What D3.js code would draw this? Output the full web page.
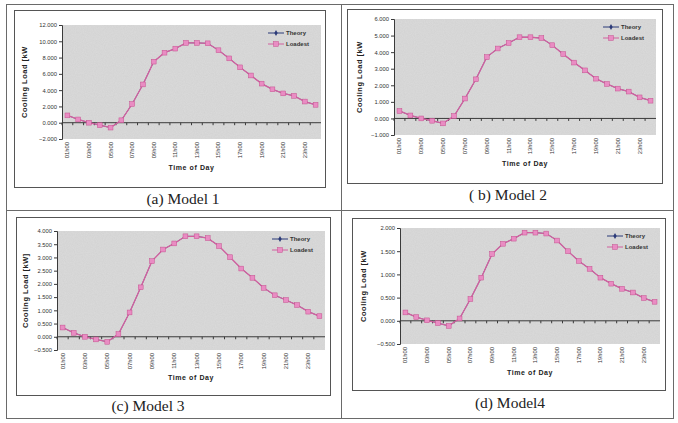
<!DOCTYPE html>
<html>
<head>
<meta charset="utf-8">
<script src="https://cdn.jsdelivr.net/npm/d3@7"></script>
<style>
    body { margin: 0; background: #ffffff; }
    svg { display: block; }
</style>
</head>
<body>
<div id="chart"></div>
<script>
// Data
const hours = ["01h00", "02h00", "03h00", "04h00", "05h00", "06h00", "07h00", "08h00",
    "09h00", "10h00", "11h00", "12h00", "13h00", "14h00", "15h00", "16h00",
    "17h00", "18h00", "19h00", "20h00", "21h00", "22h00", "23h00", "24h00"];

const loadest1 = [0.9, 0.4, 0.0, -0.3, -0.6, 0.3, 2.3, 4.7, 7.5, 8.6, 9.1, 9.8,
    9.8, 9.75, 8.9, 7.9, 6.8, 5.8, 4.8, 4.1, 3.6, 3.3, 2.6, 2.2];
const theory1 = [0.9, 0.4, 0.0, -0.3, -0.6, 0.3, 2.3, 4.7, 7.5, 8.6, 9.1, 9.8,
    9.8, 9.75, 8.9, 7.9, 6.8, 5.8, 4.8, 4.1, 3.6, 3.3, 2.6, 2.2];

const loadest2 = [0.45, 0.18, 0.0, -0.14, -0.3, 0.14, 1.2, 2.36, 3.7, 4.22, 4.55, 4.9,
    4.9, 4.85, 4.42, 3.88, 3.37, 2.9, 2.4, 2.08, 1.8, 1.62, 1.27, 1.07];
const theory2 = [0.45, 0.18, 0.0, -0.14, -0.3, 0.14, 1.2, 2.36, 3.7, 4.22, 4.55, 4.9,
    4.9, 4.85, 4.42, 3.88, 3.37, 2.9, 2.4, 2.08, 1.8, 1.62, 1.27, 1.07];

const loadest3 = [0.35, 0.15, 0.0, -0.1, -0.19, 0.1, 0.92, 1.87, 2.86, 3.3, 3.53, 3.8,
    3.8, 3.73, 3.43, 3.01, 2.58, 2.23, 1.85, 1.57, 1.39, 1.2, 0.95, 0.78];
const theory3 = [0.35, 0.15, 0.0, -0.1, -0.19, 0.1, 0.92, 1.87, 2.86, 3.3, 3.53, 3.8,
    3.8, 3.73, 3.43, 3.01, 2.58, 2.23, 1.85, 1.57, 1.39, 1.2, 0.95, 0.78];

const loadest4 = [0.18, 0.08, 0.01, -0.05, -0.11, 0.05, 0.47, 0.93, 1.44, 1.66, 1.77, 1.9,
    1.9, 1.88, 1.73, 1.5, 1.29, 1.12, 0.93, 0.8, 0.69, 0.61, 0.49, 0.41];
const theory4 = [0.18, 0.08, 0.01, -0.05, -0.11, 0.05, 0.47, 0.93, 1.44, 1.66, 1.77, 1.9,
    1.9, 1.88, 1.73, 1.5, 1.29, 1.12, 0.93, 0.8, 0.69, 0.61, 0.49, 0.41];

const yTicks1 = [-2, 0, 2, 4, 6, 8, 10, 12];
const yTicks2 = [-1, 0, 1, 2, 3, 4, 5, 6];
const yTicks3 = [-0.5, 0, 0.5, 1, 1.5, 2, 2.5, 3, 3.5, 4];
const yTicks4 = [-0.5, 0, 0.5, 1, 1.5, 2];

const captions = ["(a) Model 1", "( b) Model 2", "(c) Model 3", "(d) Model4"];
const yTitles = ["Cooling Load [kW", "Cooling Load [kW", "Cooling Load [kW]", "Cooling Load [kW"];
const seriesNames = ["Theory", "Loadest"];

// Layout of each panel (frame, plot area, caption position)
const panels = [
    { frame: [14, 10, 325, 187], plot: [62, 25, 321, 139], yTitleX: 27, titleY: 170, cap: [183, 204],
      loadest: loadest1, theory: theory1, ticks: yTicks1 },
    { frame: [347, 9, 662, 183], plot: [394, 19, 656, 135], yTitleX: 362, titleY: 166, cap: [508, 200],
      loadest: loadest2, theory: theory2, ticks: yTicks2 },
    { frame: [16, 217, 330, 395], plot: [57, 231, 325, 350], yTitleX: 28, titleY: 380, cap: [148, 411],
      loadest: loadest3, theory: theory3, ticks: yTicks3 },
    { frame: [352, 218, 665, 390], plot: [400, 228, 660, 344], yTitleX: 366, titleY: 375, cap: [510, 408],
      loadest: loadest4, theory: theory4, ticks: yTicks4 },
];

const config = {
    width: 678,
    height: 423,
    loadest: { line: "#d2609f", fill: "#e98cc3", stroke: "#c64f8e" },
    theory: { line: "#2b3a78" },
    plotFill: "#d9d9d9",
    axisColor: "#3a3a3a",
    tickFont: "Liberation Sans, Arial, sans-serif",
};

const svg = d3.select("#chart")
    .append("svg")
    .attr("width", config.width)
    .attr("height", config.height);

// Speckle texture for the scanned grey plot area
const defs = svg.append("defs");
const filter = defs.append("filter").attr("id", "speckle")
    .attr("x", 0).attr("y", 0).attr("width", 1).attr("height", 1);
filter.append("feTurbulence")
    .attr("type", "fractalNoise")
    .attr("baseFrequency", 0.9)
    .attr("numOctaves", 2)
    .attr("seed", 3)
    .attr("result", "noise");
filter.append("feColorMatrix")
    .attr("in", "noise")
    .attr("type", "matrix")
    .attr("values", "0 0 0 0 0.55  0 0 0 0 0.55  0 0 0 0 0.55  0 0 0 0.5 -0.12")
    .attr("result", "dots");
filter.append("feComposite")
    .attr("in", "dots")
    .attr("in2", "SourceGraphic")
    .attr("operator", "atop");

// Table borders around the four figures
const table = svg.append("g")
    .attr("fill", "none")
    .attr("stroke", "#6a6a6a")
    .attr("stroke-width", 1);
table.append("rect").attr("x", 6.5).attr("y", 4.5).attr("width", 667).attr("height", 414);
table.append("line").attr("x1", 341.5).attr("x2", 341.5).attr("y1", 4.5).attr("y2", 418.5);
table.append("line").attr("x1", 6.5).attr("x2", 673.5).attr("y1", 210.5).attr("y2", 210.5);

panels.forEach((p, i) => drawPanel(p, i));

function drawPanel(p, i) {
    const g = svg.append("g");
    const [fx0, fy0, fx1, fy1] = p.frame;
    const [px0, py0, px1, py1] = p.plot;

    // Chart frame
    g.append("rect")
        .attr("x", fx0 + 0.5).attr("y", fy0 + 0.5)
        .attr("width", fx1 - fx0).attr("height", fy1 - fy0)
        .attr("fill", "#ffffff")
        .attr("stroke", "#555555")
        .attr("stroke-width", 1);

    // Plot area
    g.append("rect")
        .attr("x", px0).attr("y", py0)
        .attr("width", px1 - px0).attr("height", py1 - py0)
        .attr("fill", config.plotFill)
        .attr("filter", "url(#speckle)");

    const x = d3.scalePoint()
        .domain(hours)
        .range([px0, px1])
        .padding(0.5);

    const y = d3.scaleLinear()
        .domain(d3.extent(p.ticks))
        .range([py1, py0]);

    // Y axis
    const yAxis = d3.axisLeft(y)
        .tickValues(p.ticks)
        .tickFormat(d3.format(".3f"))
        .tickSize(3)
        .tickPadding(2);
    const ya = g.append("g")
        .attr("transform", `translate(${px0},0)`)
        .call(yAxis);
    ya.select(".domain").attr("stroke", config.axisColor);
    ya.selectAll(".tick line").attr("stroke", config.axisColor);
    ya.selectAll("text")
        .attr("font-size", 5.8)
        .attr("font-family", config.tickFont)
        .attr("fill", "#333333");

    // Zero line with category ticks
    const y0 = y(0);
    const step = x.step();
    g.append("line")
        .attr("x1", px0).attr("x2", px1)
        .attr("y1", y0).attr("y2", y0)
        .attr("stroke", config.axisColor)
        .attr("stroke-width", 1);
    g.append("g")
        .selectAll("line")
        .data(hours)
        .enter()
        .append("line")
        .attr("x1", d => x(d) - step / 2)
        .attr("x2", d => x(d) - step / 2)
        .attr("y1", y0)
        .attr("y2", y0 + 2.5)
        .attr("stroke", config.axisColor);

    // Category labels along the bottom, every other hour
    g.append("g")
        .selectAll("text")
        .data(hours.filter((d, k) => k % 2 === 0))
        .enter()
        .append("text")
        .text(d => d)
        .attr("transform", d => `translate(${x(d) + 2},${py1 + 3}) rotate(-90)`)
        .attr("text-anchor", "end")
        .attr("font-size", 5.8)
        .attr("font-family", config.tickFont)
        .attr("fill", "#333333");

    // Axis titles
    g.append("text")
        .text("Time of Day")
        .attr("x", (px0 + px1) / 2)
        .attr("y", p.titleY)
        .attr("text-anchor", "middle")
        .attr("font-size", 7)
        .attr("font-weight", "bold")
        .attr("letter-spacing", 0.6)
        .attr("font-family", config.tickFont)
        .attr("fill", "#222222");

    g.append("text")
        .text(yTitles[i])
        .attr("transform", `translate(${p.yTitleX},${(py0 + py1) / 2}) rotate(-90)`)
        .attr("text-anchor", "middle")
        .attr("font-size", 7.5)
        .attr("font-weight", "bold")
        .attr("letter-spacing", 0.5)
        .attr("font-family", config.tickFont)
        .attr("fill", "#222222");

    // Series lines: Theory sits underneath Loadest
    const line = d3.line()
        .x((d, k) => x(hours[k]))
        .y(d => y(d));

    g.append("path")
        .datum(p.theory)
        .attr("d", line)
        .attr("fill", "none")
        .attr("stroke", config.theory.line)
        .attr("stroke-width", 0.7);

    g.append("path")
        .datum(p.loadest)
        .attr("d", line)
        .attr("fill", "none")
        .attr("stroke", config.loadest.line)
        .attr("stroke-width", 1.3);

    g.append("g")
        .selectAll("rect")
        .data(p.loadest)
        .enter()
        .append("rect")
        .attr("x", (d, k) => x(hours[k]) - 2.4)
        .attr("y", d => y(d) - 2.4)
        .attr("width", 4.8)
        .attr("height", 4.8)
        .attr("fill", config.loadest.fill)
        .attr("stroke", config.loadest.stroke)
        .attr("stroke-width", 0.5);

    // Legend
    const lx = px1 - 53;
    const legend = g.append("g");
    seriesNames.forEach((name, k) => {
        const ly = py0 + 8 + k * 11;
        const color = k === 0 ? config.theory.line : config.loadest.line;
        legend.append("line")
            .attr("x1", lx).attr("x2", lx + 16)
            .attr("y1", ly).attr("y2", ly)
            .attr("stroke", color)
            .attr("stroke-width", 1);
        if (k === 0) {
            legend.append("path")
                .attr("d", d3.symbol(d3.symbolDiamond, 10)())
                .attr("transform", `translate(${lx + 8},${ly})`)
                .attr("fill", config.theory.line);
        } else {
            legend.append("rect")
                .attr("x", lx + 5.6).attr("y", ly - 2.4)
                .attr("width", 4.8).attr("height", 4.8)
                .attr("fill", config.loadest.fill)
                .attr("stroke", config.loadest.stroke)
                .attr("stroke-width", 0.5);
        }
        legend.append("text")
            .text(name)
            .attr("x", lx + 18)
            .attr("y", ly + 2)
            .attr("font-size", 6)
            .attr("font-weight", "bold")
            .attr("font-family", config.tickFont)
            .attr("fill", "#333333");
    });

    // Caption below the chart
    g.append("text")
        .text(captions[i])
        .attr("x", p.cap[0])
        .attr("y", p.cap[1])
        .attr("text-anchor", "middle")
        .attr("font-size", 15.5)
        .attr("font-family", "Liberation Serif, Times New Roman, serif")
        .attr("fill", "#222222");
}
</script>
</body>
</html>
